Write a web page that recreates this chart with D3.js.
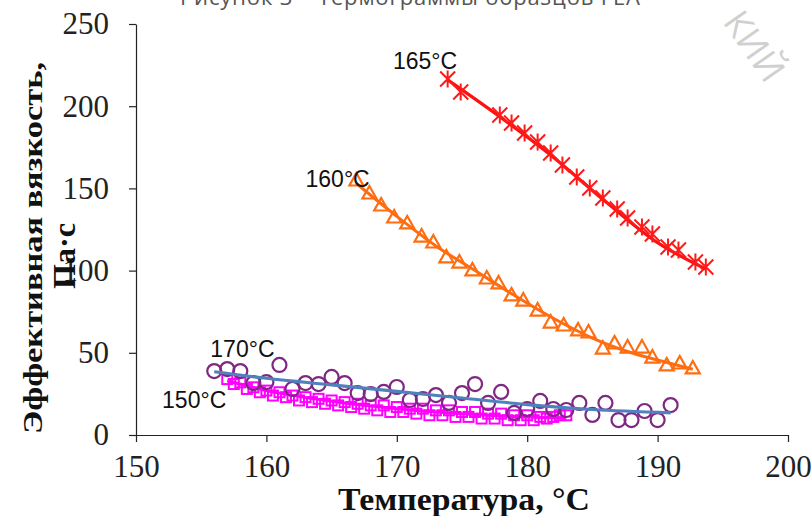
<!DOCTYPE html>
<html>
<head>
<meta charset="utf-8">
<script src="https://cdn.jsdelivr.net/npm/d3@7"></script>
<style>
  body { margin: 0; background: #fff; }
  svg { display: block; }
</style>
</head>
<body>
<div id="chart"></div>
<script>
var width = 811;
var height = 516;

// x ticks
var xTicks = [150, 160, 170, 180, 190, 200];
var yTicks = [0, 50, 100, 150, 200, 250];

// 165°C - red stars
var t165X = [173.9, 174.9, 177.9, 178.8, 179.8, 180.8, 181.8, 182.7, 183.8, 184.8, 185.8, 186.9, 187.7, 188.8, 189.6, 190.8, 191.6, 192.9, 193.7];
var t165Y = [216.5, 208.6, 194.6, 189.8, 183.7, 178.2, 171.5, 164.2, 156.9, 150.2, 144.2, 137.5, 132.0, 126.5, 122.3, 114.4, 112.5, 105.2, 102.2];
var fit165X = [173.9, 178, 182, 186, 190, 193.7];
var fit165Y = [216, 193, 169, 142, 117, 101];

// 160°C - orange triangles
var t160X = [166.9, 167.9, 168.8, 169.8, 170.8, 171.9, 172.8, 173.8, 174.8, 175.8, 176.9, 177.8, 178.8, 179.7, 180.8, 181.8, 182.8, 183.9, 184.7, 185.8, 186.7, 187.7, 188.8, 189.6, 190.7, 191.7, 192.7];
var t160Y = [155.1, 147.2, 139.9, 132.6, 129.0, 121.0, 117.4, 108.3, 105.2, 100.4, 95.5, 92.5, 85.2, 82.1, 76.0, 68.7, 66.9, 63.9, 62.7, 52.9, 56.0, 53.5, 53.5, 47.4, 42.6, 43.8, 40.8];
var fit160X = [166.9, 170, 173, 176, 179, 182, 185, 188, 191, 192.7];
var fit160Y = [153, 133, 115, 100, 85, 71, 59, 50, 43.5, 40];

// 170°C - purple circles
var t170X = [156, 157, 158, 159, 160, 161, 162, 163, 164, 165, 166, 167, 168, 169, 170, 171, 172, 173, 174, 175, 176, 177, 178, 179, 180, 181, 182, 183, 184, 185, 186, 187, 188, 189, 190, 191];
var t170Y = [38.9, 40.1, 38.9, 31.6, 32.2, 42.6, 28.0, 31.6, 31.0, 35.3, 31.6, 25.5, 24.9, 26.2, 29.2, 21.3, 21.9, 24.3, 19.5, 25.5, 31.0, 19.5, 26.2, 13.4, 15.8, 20.7, 15.8, 15.2, 19.5, 12.2, 19.5, 9.1, 9.1, 14.6, 9.1, 18.2];
var fit170X = [156, 160, 165, 170, 175, 180, 185, 191];
var fit170Y = [38.5, 34.5, 30.5, 26.5, 22.5, 18.5, 15.5, 13.5];

// 150°C - magenta squares
var t150X = [157, 157.5, 158, 158.5, 159, 159.5, 160, 160.5, 161, 161.5, 162, 162.5, 163, 163.5, 164, 164.5, 165, 165.5, 166, 166.5, 167, 167.5, 168, 168.5, 169, 169.5, 170, 170.5, 171, 171.5, 172, 172.5, 173, 173.5, 174, 174.5, 175, 175.5, 176, 176.5, 177, 177.5, 178, 178.5, 179, 179.5, 180, 180.5, 181, 181.5, 182, 182.5, 183];
var t150Y = [34, 31, 32, 28, 29, 26, 27, 24, 26, 23, 24, 21, 23, 20, 22, 19, 21, 18, 20, 17, 19, 16, 18, 15, 18, 14, 17, 14, 16, 13, 16, 12, 15, 12, 15, 11, 14, 11, 14, 10, 13, 10, 13, 9, 12, 9, 12, 9, 11, 10, 11, 12, 12];
var fit150X = [157, 160, 165, 170, 175, 180, 183];
var fit150Y = [33, 27, 20.5, 16, 13, 11, 10.5];

// series labels
var labelText = ["165°C", "160°C", "170°C", "150°C"];
var labelX = [169.7, 163.0, 155.7, 152.0];
var labelY = [222.5, 151, 47.5, 16.5];

var svg = d3.select("#chart").append("svg")
  .attr("width", width)
  .attr("height", height);

var x = d3.scaleLinear().domain([150, 200]).range([136, 788]);
var y = d3.scaleLinear().domain([0, 250]).range([435, 24]);

function zip(xs, ys) {
  return xs.map(function(v, i) { return {x: v, y: ys[i]}; });
}

// caption of the page above, cut off by the crop
svg.append("text")
  .attr("x", 180)
  .attr("y", 5)
  .attr("textLength", 460)
  .style("font", "22px 'Open Sans', sans-serif")
  .style("fill", "#555")
  .text("Рисунок 3 – Термограммы образцов ГЕА");

// watermark fragment
svg.append("text")
  .attr("transform", "translate(722,22) rotate(55)")
  .style("font", "36px 'Open Sans', sans-serif")
  .style("fill", "#d0d0d0")
  .text("КИЙ");

// axes
var xAxis = d3.axisBottom(x).tickValues(xTicks).tickSize(7).tickSizeOuter(0).tickPadding(13);
var yAxis = d3.axisLeft(y).tickValues(yTicks).tickSize(7).tickSizeOuter(0).tickPadding(20);

var gx = svg.append("g")
  .attr("transform", "translate(0," + y(0) + ")")
  .call(xAxis);
var gy = svg.append("g")
  .attr("transform", "translate(" + x(150) + ",0)")
  .call(yAxis);

[gx, gy].forEach(function(g) {
  g.selectAll("path, line").attr("stroke", "#222").attr("stroke-width", 1.2);
  g.selectAll("text")
    .style("font-family", "'Liberation Serif', 'Times New Roman', serif")
    .style("font-size", "31px")
    .attr("fill", "#222");
});

// axis titles
svg.append("text")
  .attr("x", 464)
  .attr("y", 510)
  .attr("text-anchor", "middle")
  .attr("textLength", 252)
  .attr("lengthAdjust", "spacingAndGlyphs")
  .style("font", "bold 31px 'Liberation Serif', serif")
  .attr("fill", "#111")
  .text("Температура, °C");

svg.append("text")
  .attr("transform", "translate(42,248) rotate(-90)")
  .attr("text-anchor", "middle")
  .attr("textLength", 372)
  .attr("lengthAdjust", "spacingAndGlyphs")
  .style("font", "bold 27px 'Liberation Serif', serif")
  .attr("fill", "#111")
  .text("Эффективная  вязкость,");

svg.append("text")
  .attr("transform", "translate(75,256) rotate(-90)")
  .attr("text-anchor", "middle")
  .attr("textLength", 66)
  .attr("lengthAdjust", "spacingAndGlyphs")
  .style("font", "bold 31px 'Liberation Serif', serif")
  .attr("fill", "#111")
  .text("Па·с");

var line = d3.line()
  .x(function(d) { return x(d.x); })
  .y(function(d) { return y(d.y); })
  .curve(d3.curveMonotoneX);

var plot = svg.append("g");

// 150°C squares
plot.append("g").selectAll("rect")
  .data(zip(t150X, t150Y))
  .enter().append("rect")
    .attr("x", function(d) { return x(d.x) - 5; })
    .attr("y", function(d) { return y(d.y) - 5; })
    .attr("width", 10)
    .attr("height", 10)
    .attr("fill", "none")
    .attr("stroke", "#ff00ff")
    .attr("stroke-width", 2);

plot.append("path")
  .datum(zip(fit150X, fit150Y))
  .attr("d", line)
  .attr("fill", "none")
  .attr("stroke", "#ff00ff")
  .attr("stroke-width", 3);

// 170°C circles
plot.append("g").selectAll("circle")
  .data(zip(t170X, t170Y))
  .enter().append("circle")
    .attr("cx", function(d) { return x(d.x); })
    .attr("cy", function(d) { return y(d.y); })
    .attr("r", 7)
    .attr("fill", "none")
    .attr("stroke", "#7e2883")
    .attr("stroke-width", 2.2);

plot.append("path")
  .datum(zip(fit170X, fit170Y))
  .attr("d", line)
  .attr("fill", "none")
  .attr("stroke", "#4f81bd")
  .attr("stroke-width", 3.2);

// 160°C triangles
plot.append("path")
  .datum(zip(fit160X, fit160Y))
  .attr("d", line)
  .attr("fill", "none")
  .attr("stroke", "#ff6d10")
  .attr("stroke-width", 3);

plot.append("g").selectAll("path")
  .data(zip(t160X, t160Y))
  .enter().append("path")
    .attr("transform", function(d) { return "translate(" + x(d.x) + "," + y(d.y) + ")"; })
    .attr("d", "M0,-7L7,5.5L-7,5.5Z")
    .attr("fill", "none")
    .attr("stroke", "#ff6d10")
    .attr("stroke-width", 2.2);

// 165°C stars
plot.append("path")
  .datum(zip(fit165X, fit165Y))
  .attr("d", line)
  .attr("fill", "none")
  .attr("stroke", "#ff1010")
  .attr("stroke-width", 3.2);

plot.append("g").selectAll("path")
  .data(zip(t165X, t165Y))
  .enter().append("path")
    .attr("transform", function(d) { return "translate(" + x(d.x) + "," + y(d.y) + ")"; })
    .attr("d", "M0,-8.5L0,8.5M-7.5,-7.5L7.5,7.5M-7.5,7.5L7.5,-7.5")
    .attr("fill", "none")
    .attr("stroke", "#ff1a1a")
    .attr("stroke-width", 2);

// labels
svg.append("g").selectAll("text")
  .data(labelText)
  .enter().append("text")
    .attr("x", function(d, i) { return x(labelX[i]); })
    .attr("y", function(d, i) { return y(labelY[i]); })
    .style("font", "23px 'Liberation Sans', Arial, sans-serif")
    .attr("fill", "#111")
    .text(function(d) { return d; });
</script>
</body>
</html>
